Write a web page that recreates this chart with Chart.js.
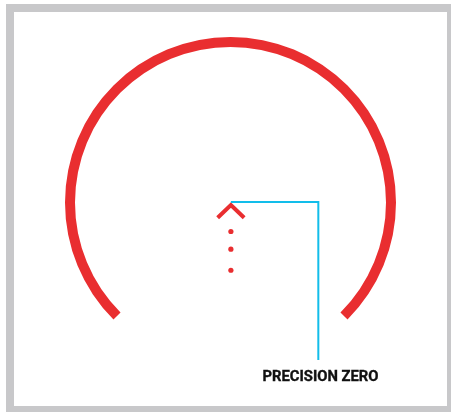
<!DOCTYPE html>
<html>
<head>
<meta charset="utf-8">
<script src="https://cdn.jsdelivr.net/npm/chart.js@4.4.1/dist/chart.umd.min.js"></script>
<style>
  html, body { margin:0; padding:0; background:#ffffff; width:451px; height:412px; overflow:hidden; }
  #frame { position:absolute; left:6px; top:4px; width:449px; height:410px; box-sizing:border-box; border:8px solid #C8C8CA; }
  canvas { position:absolute; left:0; top:0; }
  #label { position:absolute; left:220px; width:201px; top:369px; text-align:center;
           font-family: Roboto, "Liberation Sans", sans-serif; font-weight:bold; font-size:14.8px; line-height:14px; color:#111;
           -webkit-text-stroke: 0.35px #111; }
</style>
</head>
<body>
<div id="frame"></div>
<canvas id="ring" width="451" height="412"></canvas>
<canvas id="marks" width="451" height="412"></canvas>
<div id="label"></div>
<script>
// ---- data ----
const ringSpanDegrees = [270];           // visible part of the outer ring
const ringStartDegrees = -135;           // ring opening centred at the bottom
const chevronX = [217.5, 231, 244.5];
const chevronY = [218, 205, 218];
const dotX = [231, 231, 231];
const dotY = [232, 250, 271.5];
const leaderX = [231, 320, 320];
const leaderY = [202, 202, 363];
const labelText = 'PRECISION ZERO';

const RED = '#E92E30';
const CYAN = '#12BDEA';

document.getElementById('label').textContent = labelText;

// Outer ring as a partial doughnut
new Chart(document.getElementById('ring'), {
  type: 'doughnut',
  data: { labels: ['ring'], datasets: [{ data: ringSpanDegrees, backgroundColor: [RED], borderWidth: 0, hoverOffset: 0 }] },
  options: {
    responsive: false, animation: false,
    circumference: ringSpanDegrees[0], rotation: ringStartDegrees,
    radius: 165.5, cutout: '93.96%',
    layout: { padding: { left: 10, right: 0, top: 0, bottom: 55.5 } },
    plugins: { legend: { display: false }, tooltip: { enabled: false } },
    events: []
  }
});

const pts = (xs, ys) => xs.map((x, i) => ({ x: x, y: ys[i] }));

new Chart(document.getElementById('marks'), {
  type: 'scatter',
  data: {
    datasets: [
      { type: 'line', data: pts(leaderX, leaderY), borderColor: CYAN, borderWidth: 2, pointRadius: 0, fill: false, tension: 0, borderJoinStyle: 'miter', borderCapStyle: 'butt' },
      { type: 'line', data: pts(chevronX, chevronY), borderColor: RED, borderWidth: 4, pointRadius: 0, fill: false, tension: 0, borderJoinStyle: 'miter', borderCapStyle: 'butt' },
      { data: pts(dotX, dotY), backgroundColor: RED, borderWidth: 0, pointRadius: 2.6 }
    ]
  },
  options: {
    responsive: false, animation: false,
    layout: { padding: 0 },
    scales: {
      x: { type: 'linear', min: 0, max: 451, display: false },
      y: { type: 'linear', min: 0, max: 412, reverse: true, display: false }
    },
    plugins: { legend: { display: false }, tooltip: { enabled: false } },
    elements: { line: { clip: false } },
    events: []
  }
});
</script>
</body>
</html>
